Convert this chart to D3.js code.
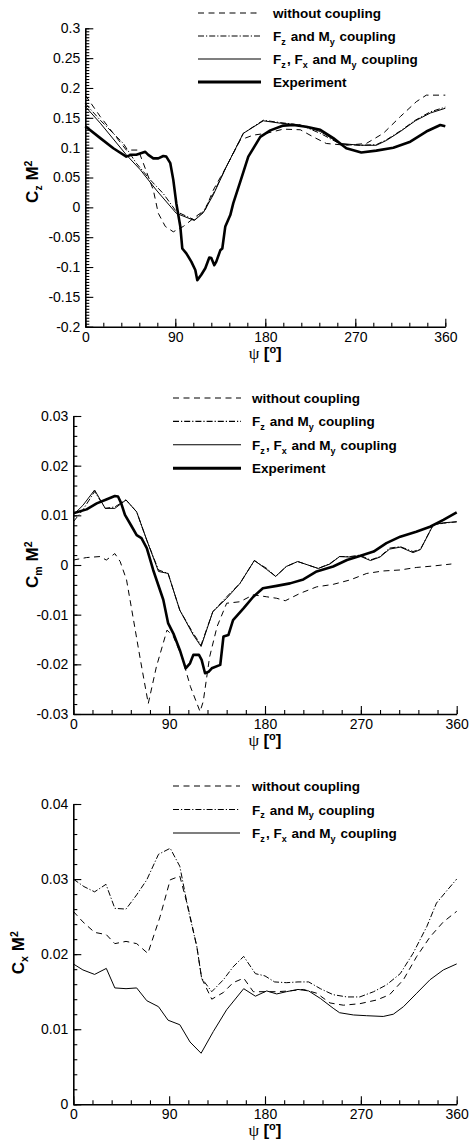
<!DOCTYPE html>
<html>
<head>
<meta charset="utf-8">
<script src="https://cdn.jsdelivr.net/npm/d3@7"></script>
<style>
  body { margin: 0; background: #fff; }
  svg text { font-family: "Liberation Sans", Arial, sans-serif; fill: #000; }
</style>
</head>
<body>
<div id="chart"></div>
<script>
// ---- panel 1 : Cz M^2 ----
var czTicks = [-0.2, -0.15, -0.1, -0.05, 0, 0.05, 0.1, 0.15, 0.2, 0.25, 0.3];
var czExpPsi = [0, 15, 28, 41, 46, 51, 60, 63, 68, 73, 78, 81, 85, 88, 91, 95, 97, 101, 106, 110, 112, 116, 120, 124, 126, 129, 131, 135, 137, 140, 145, 148, 155, 163, 175, 185, 198, 208, 221, 235, 248, 261, 276, 291, 308, 325, 341, 355, 360];
var czExp = [0.136, 0.116, 0.099, 0.085, 0.088, 0.088, 0.093, 0.088, 0.082, 0.082, 0.086, 0.085, 0.074, 0.046, 0.007, -0.032, -0.069, -0.077, -0.091, -0.105, -0.122, -0.113, -0.102, -0.084, -0.085, -0.097, -0.091, -0.072, -0.069, -0.032, -0.013, 0.007, 0.043, 0.085, 0.118, 0.129, 0.137, 0.138, 0.135, 0.130, 0.116, 0.099, 0.092, 0.095, 0.100, 0.110, 0.127, 0.138, 0.136];
var czNoPsi = [0, 15, 28, 41, 53, 58, 68, 73, 80, 88, 98, 110, 120, 128, 141, 155, 168, 181, 198, 215, 228, 241, 261, 281, 298, 315, 331, 341, 360];
var czNo = [0.188, 0.152, 0.124, 0.096, 0.096, 0.074, 0.029, -0.010, -0.032, -0.041, -0.032, -0.016, -0.004, 0.029, 0.068, 0.113, 0.121, 0.124, 0.131, 0.130, 0.118, 0.107, 0.104, 0.107, 0.124, 0.152, 0.177, 0.188, 0.188];
var czZMPsi = [0, 15, 38, 51, 65, 78, 91, 109, 118, 128, 141, 158, 178, 195, 215, 235, 255, 275, 291, 301, 315, 330, 345, 360];
var czZM = [0.174, 0.146, 0.107, 0.074, 0.046, 0.023, -0.007, -0.021, -0.007, 0.023, 0.068, 0.124, 0.146, 0.142, 0.138, 0.124, 0.106, 0.104, 0.105, 0.113, 0.128, 0.146, 0.160, 0.168];
var czZXMPsi = [0, 15, 41, 55, 71, 91, 109, 118, 128, 141, 158, 178, 195, 215, 235, 255, 275, 291, 301, 315, 330, 345, 360];
var czZXM = [0.169, 0.141, 0.088, 0.063, 0.029, -0.010, -0.022, -0.009, 0.021, 0.068, 0.124, 0.145, 0.141, 0.138, 0.127, 0.107, 0.104, 0.104, 0.112, 0.127, 0.145, 0.158, 0.166];

// ---- panel 2 : Cm M^2 ----
var cmTicks = [-0.03, -0.02, -0.01, 0, 0.01, 0.02, 0.03];
var cmExpPsi = [0, 12.5, 22, 31, 39, 42, 45, 48.5, 55, 59.5, 64, 69, 75, 84.5, 89, 94, 100, 105.5, 109.6, 112.7, 118, 120.5, 123.7, 127, 130, 138, 141, 145.6, 150, 160, 169, 178, 191, 203.5, 216, 228.5, 244, 257, 269, 282, 294, 307, 322, 335, 347.5, 360];
var cmExp = [0.0104, 0.0112, 0.0124, 0.0132, 0.0139, 0.0138, 0.0124, 0.0101, 0.0077, 0.0060, 0.0054, 0.0034, -0.0010, -0.0070, -0.0117, -0.0138, -0.0171, -0.0208, -0.0198, -0.0181, -0.0181, -0.0191, -0.0218, -0.0215, -0.0208, -0.0201, -0.0144, -0.0141, -0.0111, -0.0087, -0.0064, -0.0047, -0.0042, -0.0037, -0.0029, -0.0013, -0.0003, 0.0010, 0.0018, 0.0027, 0.0044, 0.0057, 0.0067, 0.0077, 0.0091, 0.0106];
var cmNoPsi = [0, 12.5, 25, 31, 39, 44, 50, 56, 63, 70.4, 78, 88, 94, 102, 110, 119, 122, 128, 135, 144, 156.5, 169, 181.6, 191, 199, 213, 228.5, 244, 260, 275.5, 291, 307, 322, 338, 355];
var cmNo = [0.0010, 0.0015, 0.0017, 0.0010, 0.0023, 0.0007, -0.0030, -0.0104, -0.0191, -0.0279, -0.0205, -0.0131, -0.0144, -0.0185, -0.0245, -0.0295, -0.0275, -0.0185, -0.0124, -0.0077, -0.0074, -0.0060, -0.0064, -0.0067, -0.0072, -0.0057, -0.0044, -0.0039, -0.0030, -0.0017, -0.0012, -0.0010, -0.0005, -0.0002, 0.0002];
var cmCplPsi = [0, 9, 20, 30, 39, 49.5, 59.5, 69, 80, 89, 100, 112.7, 120, 131, 144, 156.5, 170, 181.6, 190, 200, 210.7, 217.6, 230, 241, 250, 260, 269, 279, 288, 297, 307, 319, 326, 338, 347.5, 360];
var cmZM = [0.0087, 0.0111, 0.0148, 0.0114, 0.0117, 0.0131, 0.0107, 0.0050, -0.0010, -0.0017, -0.0091, -0.0138, -0.0161, -0.0094, -0.0064, -0.0037, 0.0009, -0.0007, -0.0023, -0.0003, 0.0007, 0.0002, -0.0007, 0.0003, 0.0017, 0.0017, 0.0020, 0.0010, 0.0017, 0.0034, 0.0037, 0.0027, 0.0032, 0.0081, 0.0084, 0.0087];
var cmZXM = [0.0101, 0.0120, 0.0151, 0.0114, 0.0114, 0.0131, 0.0107, 0.0050, -0.0013, -0.0017, -0.0091, -0.0141, -0.0164, -0.0094, -0.0067, -0.0037, 0.0009, -0.0009, -0.0023, -0.0003, 0.0007, 0.0002, -0.0007, 0.0002, 0.0017, 0.0016, 0.0018, 0.0009, 0.0016, 0.0032, 0.0036, 0.0025, 0.0031, 0.0081, 0.0085, 0.0087];

// ---- panel 3 : Cx M^2 ----
var cxTicks = [0, 0.01, 0.02, 0.03, 0.04];
var cxNoPsi = [0, 9, 20, 31, 39, 49.5, 59.5, 70, 81.5, 91, 100, 108, 116, 120.5, 130, 141, 150, 160, 169, 180, 191, 203, 216, 228.5, 241, 253.6, 269, 285, 297, 310, 322.5, 335, 347.5, 360];
var cxNo = [0.0257, 0.0243, 0.0229, 0.0226, 0.0214, 0.0217, 0.0214, 0.0201, 0.0250, 0.0299, 0.0304, 0.0261, 0.0210, 0.0168, 0.0140, 0.0149, 0.0162, 0.0168, 0.0150, 0.0150, 0.0150, 0.0151, 0.0153, 0.0148, 0.0135, 0.0132, 0.0134, 0.0139, 0.0146, 0.0166, 0.0197, 0.0223, 0.0243, 0.0257];
var cxZMPsi = [0, 10, 20, 30.7, 39, 49.5, 59.5, 69, 80, 91, 100, 108, 116, 120.5, 130, 141, 150, 160, 171, 180, 189, 200, 211, 221, 232, 244, 257, 269, 282, 294, 307, 319, 332, 341, 351, 360];
var cxZM = [0.0300, 0.0290, 0.0283, 0.0293, 0.0261, 0.0260, 0.0279, 0.0299, 0.0333, 0.0341, 0.0317, 0.0259, 0.0210, 0.0168, 0.0150, 0.0166, 0.0183, 0.0197, 0.0174, 0.0171, 0.0163, 0.0162, 0.0163, 0.0163, 0.0154, 0.0146, 0.0143, 0.0143, 0.0150, 0.0159, 0.0174, 0.0201, 0.0237, 0.0268, 0.0285, 0.0300];
var cxZXMPsi = [0, 9, 20, 31, 39, 49.5, 59.5, 69, 80, 89, 100, 109.6, 120, 131.5, 144, 160, 171, 181.6, 191, 200, 211, 221, 232, 244, 250, 263, 275.5, 291, 300.5, 310, 322.5, 335, 347.5, 360];
var cxZXM = [0.0187, 0.0179, 0.0173, 0.0181, 0.0155, 0.0154, 0.0155, 0.0138, 0.0130, 0.0112, 0.0106, 0.0083, 0.0068, 0.0097, 0.0126, 0.0154, 0.0144, 0.0151, 0.0147, 0.0150, 0.0153, 0.0151, 0.0141, 0.0128, 0.0122, 0.0119, 0.0118, 0.0117, 0.0120, 0.0130, 0.0148, 0.0166, 0.0179, 0.0187];

var psiTicks = [0, 90, 180, 270, 360];
var legendNames = ["without coupling", "F_z and M_y coupling", "F_z, F_x and M_y coupling", "Experiment"];

// line styles, same order as legendNames
var styles = [
    {dash: "6,4.5", width: 1},
    {dash: "6,2,1.2,2", width: 1},
    {dash: null, width: 1},
    {dash: null, width: 2.6}
];

var svg = d3.select("#chart").append("svg")
        .attr("width", 470)
        .attr("height", 1144)
        .style("display", "block");

function zipXY(xs, ys) {
    return xs.map(function (d, i) { return [d, ys[i]]; });
}

function fmt(d) {
    return String(+d.toFixed(4));
}

// write "F_z" style text with one-letter subscripts / superscripts
function richText(sel, str, small, shift) {
    var parts = str.split(/([_^].)/);
    parts.forEach(function (p) {
        if (p === "") return;
        if (p[0] === "_" || p[0] === "^") {
            var dy = p[0] === "_" ? shift : -shift * 1.6;
            sel.append("tspan").attr("dy", dy).style("font-size", small + "px").text(p[1]);
            sel.append("tspan").attr("dy", -dy).text("\u200A");
        } else {
            sel.append("tspan").text(p);
        }
    });
}

function drawPanel(options) {
    var x = d3.scaleLinear().domain([0, 360]).range([options.left, options.right]);
    var y = d3.scaleLinear().domain(options.yDomain).range([options.bottom, options.top]);
    var g = svg.append("g");

    // minor ticks
    g.append("g")
            .attr("transform", "translate(0," + options.bottom + ")")
            .call(d3.axisBottom(x).tickValues(d3.range(0, 361, 18)).tickSize(-4).tickFormat(""))
            .call(function (a) { a.select(".domain").remove(); });
    g.append("g")
            .attr("transform", "translate(" + options.left + ",0)")
            .call(d3.axisLeft(y).tickValues(d3.range(options.yDomain[0], options.yDomain[1] + 1e-9, options.yMinor)).tickSize(-4).tickFormat(""))
            .call(function (a) { a.select(".domain").remove(); });

    // major ticks and labels
    var xa = g.append("g")
            .attr("transform", "translate(0," + options.bottom + ")")
            .call(d3.axisBottom(x).tickValues(psiTicks).tickSize(-8).tickSizeOuter(0).tickPadding(5).tickFormat(fmt));
    var ya = g.append("g")
            .attr("transform", "translate(" + options.left + ",0)")
            .call(d3.axisLeft(y).tickValues(options.yTicks).tickSize(-8).tickSizeOuter(0).tickPadding(5).tickFormat(fmt));
    [xa, ya].forEach(function (a) {
        a.selectAll("text").style("font-size", "14px").style("font-family", "'Liberation Sans', Arial, sans-serif").attr("fill", "#000");
        a.select(".domain").style("stroke-width", "1.6px").attr("stroke", "#000");
    });
    g.selectAll(".tick line").attr("stroke", "#000").style("stroke-width", "1.1px");

    // curves
    var line = d3.line()
            .x(function (d) { return x(d[0]); })
            .y(function (d) { return y(d[1]); });
    options.series.forEach(function (s) {
        var st = styles[s.style];
        g.append("path")
                .datum(zipXY(s.psi, s.vals))
                .attr("d", line)
                .style("fill", "none")
                .style("stroke", "#000")
                .style("stroke-width", st.width + "px")
                .style("stroke-linejoin", "round")
                .style("stroke-dasharray", st.dash);
    });

    // legend
    var lg = options.legend;
    options.series.forEach(function (s, i) {
        var st = styles[s.style];
        var cy = lg.y + i * lg.step;
        g.append("line")
                .attr("x1", lg.x1).attr("x2", lg.x2)
                .attr("y1", cy).attr("y2", cy)
                .style("stroke", "#000")
                .style("stroke-width", (s.style === 3 ? 3 : 1.1) + "px")
                .style("stroke-dasharray", st.dash);
        var t = g.append("text")
                .attr("x", lg.tx).attr("y", cy + 5)
                .style("font-size", "13.5px")
                .style("font-weight", "bold");
        richText(t, legendNames[s.style], 9, 3.8);
    });

    // y title
    var yt = g.append("text")
            .attr("transform", "translate(" + options.yTitle[0] + "," + options.yTitle[1] + ") rotate(-90)")
            .attr("text-anchor", "middle")
            .style("font-size", "17px")
            .style("font-weight", "bold");
    richText(yt, options.yLabel, 10.5, 4);

    // x title
    var xt = g.append("text")
            .attr("x", (options.left + options.right) / 2)
            .attr("y", options.bottom + 32)
            .attr("text-anchor", "middle")
            .style("font-size", "17px");
    xt.append("tspan").style("font-family", "'Liberation Serif', 'DejaVu Serif', serif").style("font-size", "17px").text("\u03C8 ");
    xt.append("tspan").style("font-weight", "bold").text("[");
    xt.append("tspan").style("font-weight", "bold").style("font-size", "11px").attr("dy", -6).text("o");
    xt.append("tspan").style("font-weight", "bold").attr("dy", 6).text("]");
}

drawPanel({
    left: 85.3, right: 445.3, top: 28.3, bottom: 326.7,
    yDomain: [-0.2, 0.3], yTicks: czTicks, yMinor: 0.005,
    yLabel: "C_z\u2009M^2", yTitle: [38, 181],
    legend: {x1: 198, x2: 261, tx: 273, y: 13, step: 23},
    series: [
        {psi: czNoPsi, vals: czNo, style: 0},
        {psi: czZMPsi, vals: czZM, style: 1},
        {psi: czZXMPsi, vals: czZXM, style: 2},
        {psi: czExpPsi, vals: czExp, style: 3}
    ]
});

drawPanel({
    left: 73.3, right: 456.7, top: 416, bottom: 714,
    yDomain: [-0.03, 0.03], yTicks: cmTicks, yMinor: 0.002,
    yLabel: "C_m\u2009M^2", yTitle: [38, 564],
    legend: {x1: 173, x2: 241, tx: 252, y: 398, step: 23.4},
    series: [
        {psi: cmNoPsi, vals: cmNo, style: 0},
        {psi: cmCplPsi, vals: cmZM, style: 1},
        {psi: cmCplPsi, vals: cmZXM, style: 2},
        {psi: cmExpPsi, vals: cmExp, style: 3}
    ]
});

drawPanel({
    left: 73.3, right: 456.7, top: 804, bottom: 1104.3,
    yDomain: [0, 0.04], yTicks: cxTicks, yMinor: 0.002,
    yLabel: "C_x\u2009M^2", yTitle: [24, 952],
    legend: {x1: 173, x2: 240, tx: 252, y: 786, step: 23.5},
    series: [
        {psi: cxNoPsi, vals: cxNo, style: 0},
        {psi: cxZMPsi, vals: cxZM, style: 1},
        {psi: cxZXMPsi, vals: cxZXM, style: 2}
    ]
});
</script>
</body>
</html>
